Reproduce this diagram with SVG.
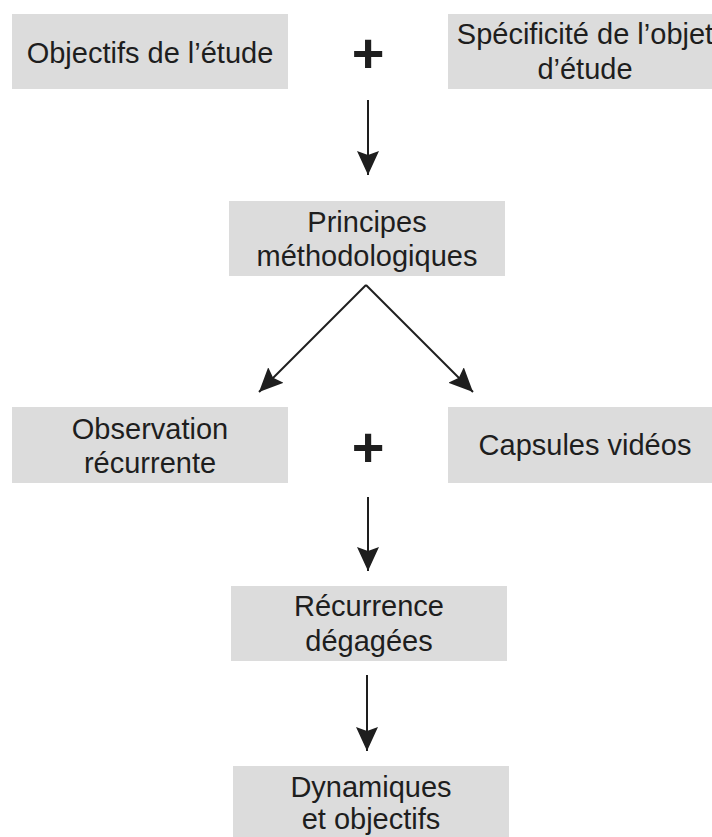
<svg xmlns="http://www.w3.org/2000/svg" width="712" height="837" viewBox="0 0 712 837">
  <style>
    .box { fill: #dcdcdc; }
    .lbl { font-family: "Liberation Sans", Arial, sans-serif; font-size: 29px; fill: #1e1e1e; text-anchor: middle; }
    .plus { font-family: "Liberation Sans", Arial, sans-serif; font-size: 56px; font-weight: bold; fill: #1e1e1e; text-anchor: middle; }
    .conn { stroke: #1e1e1e; stroke-width: 2; fill: none; }
  </style>
  <defs>
    <marker id="ah" markerUnits="userSpaceOnUse" markerWidth="26" markerHeight="24" refX="24" refY="11" orient="auto">
      <path d="M0,0 L24,11 L0,22 L4,11 Z" fill="#1e1e1e"/>
    </marker>
  </defs>
  <rect width="712" height="837" fill="#fff"/>

  <g id="n1">
    <rect class="box" x="12" y="14" width="276" height="75"/>
    <text class="lbl" x="150" y="63">Objectifs de l’étude</text>
  </g>
  <g id="plus1">
    <text class="plus" x="368" y="72">+</text>
  </g>
  <g id="n2">
    <rect class="box" x="448" y="14" width="276" height="75"/>
    <text class="lbl" x="585" y="44">Spécificité de l’objet</text>
    <text class="lbl" x="585" y="79">d’étude</text>
  </g>
  <g id="n3">
    <rect class="box" x="229" y="201" width="276" height="75"/>
    <text class="lbl" x="367" y="232">Principes</text>
    <text class="lbl" x="367" y="266">méthodologiques</text>
  </g>
  <g id="n4">
    <rect class="box" x="12" y="407" width="276" height="76"/>
    <text class="lbl" x="150" y="439">Observation</text>
    <text class="lbl" x="150" y="473">récurrente</text>
  </g>
  <g id="plus2">
    <text class="plus" x="368" y="466">+</text>
  </g>
  <g id="n5">
    <rect class="box" x="448" y="407" width="276" height="76"/>
    <text class="lbl" x="585" y="455">Capsules vidéos</text>
  </g>
  <g id="n6">
    <rect class="box" x="231" y="586" width="276" height="75"/>
    <text class="lbl" x="369" y="616">Récurrence</text>
    <text class="lbl" x="369" y="651">dégagées</text>
  </g>
  <g id="n7">
    <rect class="box" x="233" y="766" width="276" height="80"/>
    <text class="lbl" x="371" y="797">Dynamiques</text>
    <text class="lbl" x="371" y="829">et objectifs</text>
  </g>

  <g id="connectors">
    <line class="conn" x1="368" y1="100" x2="368" y2="175" marker-end="url(#ah)"/>
    <line class="conn" x1="366" y1="285" x2="259" y2="392" marker-end="url(#ah)"/>
    <line class="conn" x1="366" y1="285" x2="473" y2="392" marker-end="url(#ah)"/>
    <line class="conn" x1="368" y1="497" x2="368" y2="571" marker-end="url(#ah)"/>
    <line class="conn" x1="367" y1="675" x2="367" y2="751" marker-end="url(#ah)"/>
  </g>
</svg>
